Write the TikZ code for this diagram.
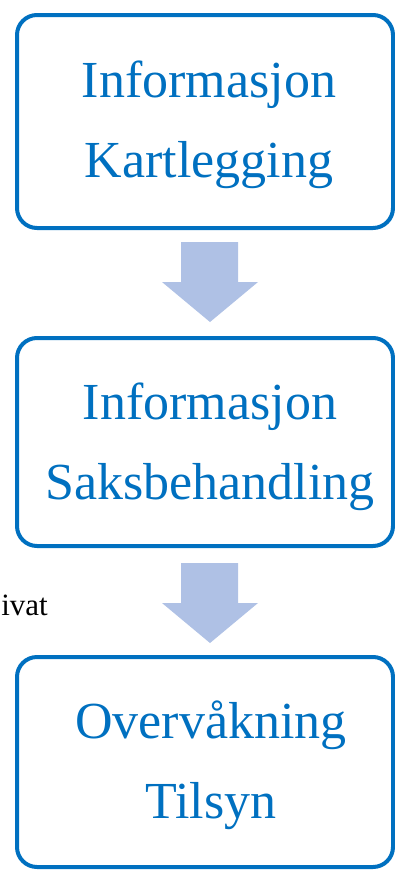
\documentclass[tikz,border=0pt]{standalone}
\usepackage{fontspec}
\setmainfont{Liberation Serif}
\usetikzlibrary{calc}
\definecolor{boxblue}{HTML}{0070C0}
\definecolor{arrowfill}{HTML}{AFC1E5}
\begin{document}
\begin{tikzpicture}[x=1pt,y=-1pt,
  stage/.style={draw=boxblue, line width=4pt, rounded corners=20pt, fill=none},
  lbl/.style={text=boxblue, anchor=base, inner sep=0pt, font=\fontsize{52}{60}\selectfont},
  side/.style={text=black, anchor=base east, inner sep=0pt, font=\fontsize{31}{36}\selectfont},
  blockarrow/.style={fill=arrowfill, draw=none}]
\useasboundingbox (0,0) rectangle (395,870);
% boxes
\draw[stage] (17,15) rectangle (393,228);
\draw[stage] (17,338) rectangle (393,546);
\draw[stage] (17,657) rectangle (393,867);
% texts
\node[lbl] (t1a) at (209,97) {Informasjon};
\node[lbl] (t1b) at (209,177) {Kartlegging};
\node[lbl] (t2a) at (210,419) {Informasjon};
\node[lbl] (t2b) at (210,499) {Saksbehandling};
\node[lbl] (t3a) at (211,738) {Overvåkning};
\node[lbl] (t3b) at (211,818) {Tilsyn};
\node[side] (sv) at (48,615) {ivat};
% block arrows
\fill[blockarrow] (181,242) -- (238,242) -- (238,282) -- (258,282) -- (210,322) -- (162,282) -- (181,282) -- cycle;
\fill[blockarrow] (181,563) -- (238,563) -- (238,603) -- (258,603) -- (210,643) -- (162,603) -- (181,603) -- cycle;
\end{tikzpicture}
\end{document}
